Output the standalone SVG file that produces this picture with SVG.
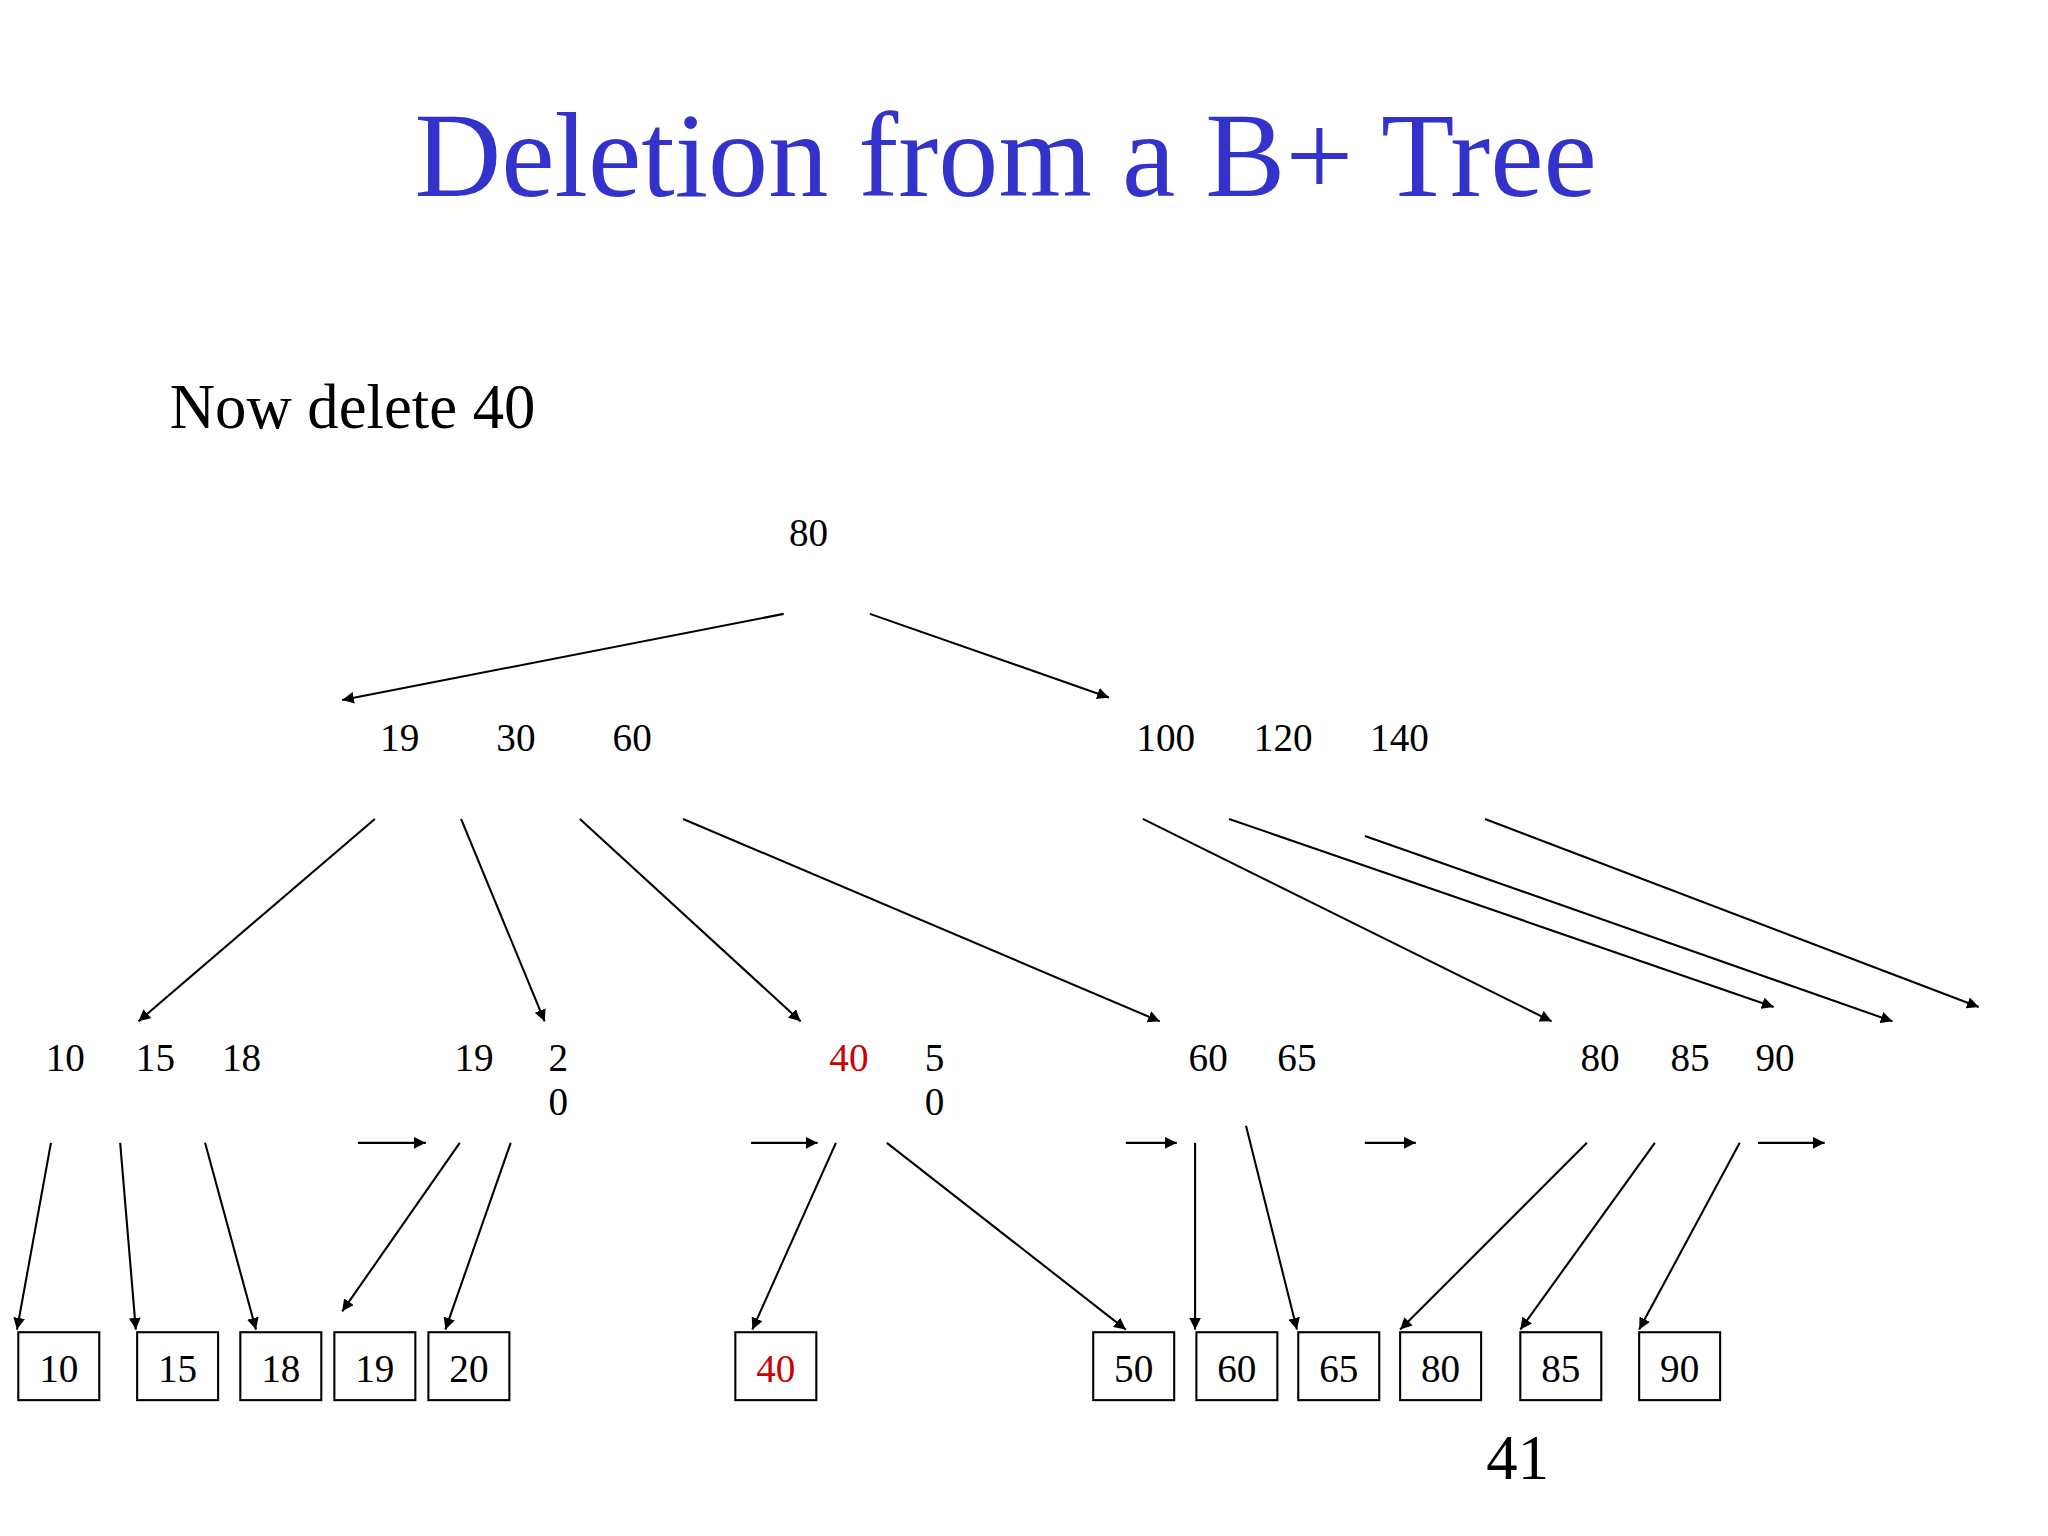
<svg xmlns="http://www.w3.org/2000/svg" width="2048" height="1536" viewBox="0 0 2048 1536">
<defs><marker id="a" viewBox="0 0 10 10" refX="10" refY="5" markerWidth="9" markerHeight="9" markerUnits="userSpaceOnUse" orient="auto"><path d="M0,0L10,5L0,10z" fill="#000"/></marker>
<style>text{font-family:"Liberation Serif",serif;font-size:30px;fill:#000}.r{fill:#c00}line{stroke:#000;stroke-width:1.6;marker-end:url(#a)}rect{fill:none;stroke:#000;stroke-width:1.6}.t{fill:#3333cc;font-size:92px}.b{text-anchor:middle}</style></defs>
<rect x="0" y="0" width="2048" height="1536" style="fill:#fff;stroke:none"/>
<g transform="scale(1.3061)">
<text class="t b" x="770" y="150">Deletion from a B+ Tree</text>
<text x="130" y="328" style="font-size:48px">Now delete 40</text>
<g id="root"><text x="604" y="418">80</text></g>
<g id="n1"><text x="291" y="575">19</text><text x="380" y="575">30</text><text x="469" y="575">60</text></g>
<g id="n2"><text x="870" y="575">100</text><text x="960" y="575">120</text><text x="1049" y="575">140</text></g>
<g id="l1"><text x="35" y="820">10</text><text x="104" y="820">15</text><text x="170" y="820">18</text></g>
<g id="l2"><text x="348" y="820">19</text><text x="420" y="820">2</text><text x="420" y="854">0</text></g>
<g id="l3"><text class="r" x="635" y="820">40</text><text x="708" y="820">5</text><text x="708" y="854">0</text></g>
<g id="l4"><text x="910" y="820">60</text><text x="978" y="820">65</text></g>
<g id="l5"><text x="1210" y="820">80</text><text x="1279" y="820">85</text><text x="1344" y="820">90</text></g>
<g id="leaves">
<rect x="14" y="1020" width="62" height="52"/><text class="b" x="45" y="1058">10</text>
<rect x="105" y="1020" width="62" height="52"/><text class="b" x="136" y="1058">15</text>
<rect x="184" y="1020" width="62" height="52"/><text class="b" x="215" y="1058">18</text>
<rect x="256" y="1020" width="62" height="52"/><text class="b" x="287" y="1058">19</text>
<rect x="328" y="1020" width="62" height="52"/><text class="b" x="359" y="1058">20</text>
<rect x="563" y="1020" width="62" height="52"/><text class="b r" x="594" y="1058">40</text>
<rect x="837" y="1020" width="62" height="52"/><text class="b" x="868" y="1058">50</text>
<rect x="916" y="1020" width="62" height="52"/><text class="b" x="947" y="1058">60</text>
<rect x="994" y="1020" width="62" height="52"/><text class="b" x="1025" y="1058">65</text>
<rect x="1072" y="1020" width="62" height="52"/><text class="b" x="1103" y="1058">80</text>
<rect x="1164" y="1020" width="62" height="52"/><text class="b" x="1195" y="1058">85</text>
<rect x="1255" y="1020" width="62" height="52"/><text class="b" x="1286" y="1058">90</text>
</g>
<text x="1138" y="1132" style="font-size:48px">41</text>
<g id="connectors">
<line x1="600" y1="470" x2="262" y2="536"/><line x1="666" y1="470" x2="849" y2="534"/>
<line x1="287" y1="627" x2="106" y2="782"/><line x1="353" y1="627" x2="417" y2="782"/><line x1="444" y1="627" x2="613" y2="782"/><line x1="523" y1="627" x2="888" y2="782"/>
<line x1="875" y1="627" x2="1188" y2="782"/><line x1="941" y1="627" x2="1358" y2="771"/><line x1="1045" y1="640" x2="1449" y2="782"/><line x1="1137" y1="627" x2="1515" y2="771"/>
<line x1="274" y1="875" x2="326" y2="875"/><line x1="575" y1="875" x2="626" y2="875"/><line x1="862" y1="875" x2="901" y2="875"/><line x1="1045" y1="875" x2="1084" y2="875"/><line x1="1346" y1="875" x2="1397" y2="875"/>
<line x1="39" y1="875" x2="13" y2="1018"/><line x1="92" y1="875" x2="104" y2="1018"/><line x1="157" y1="875" x2="196" y2="1018"/><line x1="352" y1="875" x2="262" y2="1004"/><line x1="391" y1="875" x2="341" y2="1018"/>
<line x1="640" y1="875" x2="576" y2="1018"/><line x1="679" y1="875" x2="862" y2="1018"/>
<line x1="915" y1="875" x2="915" y2="1018"/><line x1="954" y1="862" x2="993" y2="1018"/>
<line x1="1215" y1="875" x2="1072" y2="1018"/><line x1="1267" y1="875" x2="1164" y2="1018"/><line x1="1332" y1="875" x2="1255" y2="1018"/>
</g>
</g>
</svg>
